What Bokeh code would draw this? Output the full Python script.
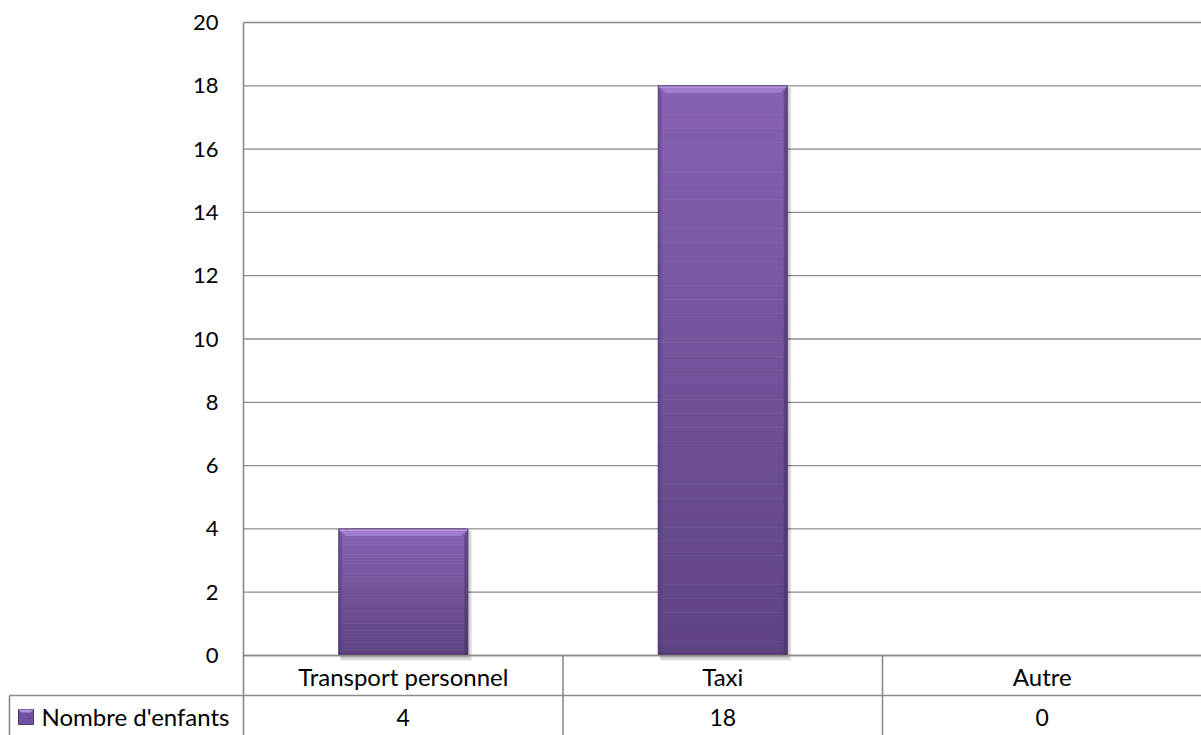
from bokeh.plotting import figure
from bokeh.models import Range1d
from bokeh.core.properties import value
from bokeh.embed import file_html
from bokeh.resources import INLINE

# ---- data ----
categories = ["Transport personnel", "Taxi", "Autre"]
series_name = "Nombre d'enfants"
counts = [4, 18, 0]
y_ticks = [0, 2, 4, 6, 8, 10, 12, 14, 16, 18, 20]

# ---- layout constants (pixels) ----
W, H = 1201, 735
PX_LEFT = 243.0
CAT_W = 319.5
Y0 = 655.0
Y20 = 22.0
UNIT = (Y0 - Y20) / 20.0


def xd(px):
    return (px - PX_LEFT) / CAT_W


def yd(py):
    return (Y0 - py) / UNIT


def dx(px):
    return px / CAT_W


def dy(px):
    return px / UNIT


FONT = value("Lato")
FS_WORD = "24px"
FS_TICK = "22px"
FS_VAL = "23px"
GRID = "#8a8a8a"

p = figure(width=W, height=H, x_range=Range1d(xd(0), xd(W)), y_range=Range1d(yd(H), yd(0)),
           x_axis_type=None, y_axis_type=None, output_backend="svg", toolbar_location=None,
           min_border=0, outline_line_color=None)
p.background_fill_color = "white"
p.border_fill_color = "white"

n_cat = len(categories)
ymax = y_ticks[-1]

# gridlines
p.segment(x0=[0] * len(y_ticks), x1=[n_cat] * len(y_ticks), y0=y_ticks, y1=y_ticks,
          line_color=GRID, line_width=1.3)

# y tick labels
p.text(x=[xd(218)] * len(y_ticks), y=y_ticks, text=[str(t) for t in y_ticks],
       text_align="right", text_baseline="middle", text_font=FONT, text_font_size=FS_TICK,
       text_color="#000000")

# bars
centers = [i + 0.5 for i in range(n_cat)]
bw = 129.0 / CAT_W


def lerp(c1, c2, t):
    a = [int(c1[i:i + 2], 16) for i in (1, 3, 5)]
    b = [int(c2[i:i + 2], 16) for i in (1, 3, 5)]
    return "#%02x%02x%02x" % tuple(int(round(a[j] + (b[j] - a[j]) * t)) for j in range(3))


BOT = "#5e4384"
TOP = "#8662b1"
N = 40
for xc, v in zip(centers, counts):
    if v <= 0:
        continue
    # shadow
    p.quad(left=xc - bw / 2 + dx(2), right=xc + bw / 2 + dx(4), bottom=-dy(5), top=v - dy(2),
           fill_color="#000000", fill_alpha=0.12, line_color=None)
    p.quad(left=xc - bw / 2 + dx(1), right=xc + bw / 2 + dx(2), bottom=-dy(3), top=v - dy(1),
           fill_color="#000000", fill_alpha=0.12, line_color=None)
    bottoms = [v * k / N for k in range(N)]
    tops = [v * (k + 1) / N for k in range(N)]
    cols = [lerp(BOT, TOP, (k + 0.5) / N) for k in range(N)]
    p.quad(left=[xc - bw / 2] * N, right=[xc + bw / 2] * N, bottom=bottoms, top=tops,
           fill_color=cols, line_color=cols, line_width=0.5)
    # bevel: top light band
    b = dx(7)
    h = dy(7)
    L, R = xc - bw / 2, xc + bw / 2
    p.patch(x=[L, R, R - b, L + b], y=[v, v, v - h, v - h], fill_color="#a584d2",
            fill_alpha=0.85, line_color=None)
    p.patch(x=[L, R, R, L], y=[v, v, v - dy(2), v - dy(2)], fill_color="#b89ae0",
            line_color=None)
    # side darker edges
    p.patch(x=[L, L + b * 0.5, L + b * 0.5, L], y=[v, v - h, 0, 0], fill_color="#4f3873",
            fill_alpha=0.35, line_color=None)
    p.patch(x=[R, R - b * 0.5, R - b * 0.5, R], y=[v, v - h, 0, 0], fill_color="#3f2c5e",
            fill_alpha=0.45, line_color=None)
    p.patch(x=[L, R, R, L], y=[0, 0, dy(3), dy(3)], fill_color="#3f2c5e", fill_alpha=0.5,
            line_color=None)
    p.quad(left=L, right=R, bottom=0, top=v, fill_color=None, line_color="#4a3570",
           line_width=1, line_alpha=0.8)

# plot area left border / table border and zero line
p.segment(x0=[0], x1=[0], y0=[yd(H + 5)], y1=[ymax], line_color=GRID, line_width=1.6)
p.segment(x0=[0], x1=[n_cat], y0=[0], y1=[0], line_color=GRID, line_width=1.6)

# data table lines
p.segment(x0=[xd(9)], x1=[n_cat], y0=[yd(695)], y1=[yd(695)], line_color=GRID, line_width=1.6)
p.segment(x0=[1, 2], x1=[1, 2], y0=[yd(H + 5)] * 2, y1=[0, 0], line_color=GRID, line_width=1.6)
p.segment(x0=[xd(9)], x1=[xd(9)], y0=[yd(H + 5)], y1=[yd(695)], line_color=GRID,
          line_width=1.6)

# category labels
p.text(x=centers, y=[yd(676)] * n_cat, text=categories, text_align="center",
       text_baseline="middle", text_font=FONT, text_font_size=FS_WORD, text_color="#000000")
# values row
p.text(x=centers, y=[yd(717)] * n_cat, text=[str(c) for c in counts], text_align="center",
       text_baseline="middle", text_font=FONT, text_font_size=FS_VAL, text_color="#000000")

# legend key + series name
p.quad(left=xd(18), right=xd(33), bottom=yd(724), top=yd(709), fill_color="#7052a0",
       line_color="#4a3570", line_width=1)
p.patch(x=[xd(18), xd(33), xd(30), xd(21)], y=[yd(709), yd(709), yd(712), yd(712)],
        fill_color="#b396dc", line_color=None)
p.text(x=[xd(41)], y=[yd(716)], text=[series_name], text_align="left", text_baseline="middle",
       text_font=FONT, text_font_size=FS_WORD, text_color="#000000")

open("out.html", "w").write(file_html(p, INLINE))
